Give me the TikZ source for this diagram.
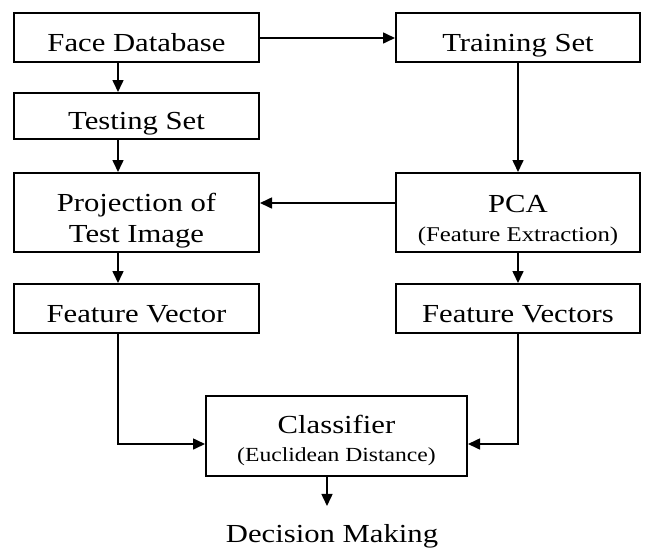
\documentclass[tikz,border=0pt]{standalone}
\usepackage{fontspec}
\setmainfont{Liberation Serif}[FakeStretch=1.18]
\usetikzlibrary{arrows.meta}

\begin{document}
\begin{tikzpicture}[x=1pt,y=1pt,yscale=-1,xscale=1,
    blk/.style={draw,line width=2pt,rectangle,inner sep=0pt,align=center,
      font=\fontsize{26}{31}\selectfont},
    one/.style={blk,text height=27pt,text depth=0pt},
    arr/.style={line width=1.6pt,-{Triangle[length=12pt,width=11pt]}}]
  \useasboundingbox (0,0) rectangle (645,549);
  % boxes
  \node[one,minimum width=245,minimum height=49] (fdb)   at (136.5,37.5)  {Face Database};
  \node[one,minimum width=244,minimum height=49] (train) at (518,37.5)    {Training Set};
  \node[one,minimum width=245,minimum height=46] (test)  at (136.5,116)   {Testing Set};
  \node[blk,minimum width=245,minimum height=79] (proj)  at (136.5,212.5) {\rule{0pt}{34pt}Projection of\\Test Image};
  \node[blk,minimum width=244,minimum height=79] (pca)   at (518,212.5)   {\rule{0pt}{34pt}PCA\\[-2pt]{\fontsize{21}{26}\selectfont(Feature Extraction)}};
  \node[one,minimum width=245,minimum height=49] (fvec)  at (136.5,308.5) {Feature Vector};
  \node[one,minimum width=244,minimum height=49] (fvecs) at (518,308.5)   {Feature Vectors};
  \node[blk,minimum width=261,minimum height=80] (cls)   at (336.5,436)   {\rule{0pt}{28pt}Classifier\\[-3pt]{\fontsize{20}{24}\selectfont(Euclidean Distance)}};
  \node[inner sep=0pt,font=\fontsize{26}{31}\selectfont] (dec) at (332,536) {Decision Making};
  % arrows
  \draw[arr] ([yshift=0.5pt]fdb.east) -- ([yshift=0.5pt]train.west);
  \draw[arr] ([xshift=-18.5pt]fdb.south) -- ([xshift=-18.5pt]test.north);
  \draw[arr] (train.south) -- (pca.north);
  \draw[arr] ([xshift=-18.5pt]test.south) -- ([xshift=-18.5pt]proj.north);
  \draw[arr] ([yshift=-9.5pt]pca.west) -- ([yshift=-9.5pt]proj.east);
  \draw[arr] ([xshift=-18.5pt]proj.south) -- ([xshift=-18.5pt]fvec.north);
  \draw[arr] (pca.south) -- (fvecs.north);
  \draw[arr] ([xshift=-18.5pt]fvec.south) |- ([yshift=8pt]cls.west);
  \draw[arr] (fvecs.south) |- ([yshift=8pt]cls.east);
  \draw[arr] ([xshift=-9.5pt]cls.south) -- ([xshift=-5pt,yshift=-18pt]dec.north);
\end{tikzpicture}
\end{document}
